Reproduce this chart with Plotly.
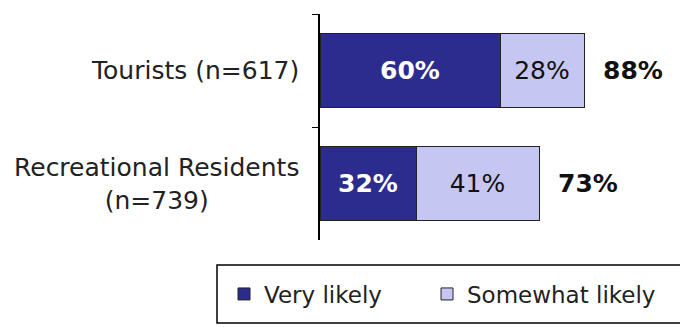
import plotly.graph_objects as go

categories = ["Tourists (n=617)", "Recreational Residents<br>(n=739)"]
very_likely = [60, 32]
somewhat_likely = [28, 41]
totals = [88, 73]

FONT = "DejaVu Sans"
FS = 25

fig = go.Figure()
fig.add_trace(go.Bar(
    y=categories, x=very_likely, orientation="h", name="Very likely",
    legendwidth=158,
    marker=dict(color="#2C2C8E", line=dict(color="#222222", width=1)),
    text=[f"{v}%" for v in very_likely], textposition="inside",
    insidetextanchor="middle", constraintext="none",
    textfont=dict(family=FONT, size=FS, color="white", weight="bold"),
))
fig.add_trace(go.Bar(
    y=categories, x=somewhat_likely, orientation="h", name="Somewhat likely",
    marker=dict(color="#C6C6F2", line=dict(color="#222222", width=1)),
    text=[f"{v}%" for v in somewhat_likely], textposition="inside",
    insidetextanchor="middle", constraintext="none",
    textfont=dict(family=FONT, size=FS, color="#111111"),
))

for cat, t in zip(categories, totals):
    fig.add_annotation(x=t, y=cat, xref="x", yref="y", text=f"<b>{t}%</b>",
                       showarrow=False, xanchor="left", xshift=17,
                       font=dict(family=FONT, size=FS, color="#111111"))
    fig.add_annotation(x=0, y=cat, xref="paper", yref="y", text=cat,
                       showarrow=False, xanchor="right", xshift=-19,
                       align="center",
                       font=dict(family=FONT, size=FS, color="#222222"))

# legend frame (extends past the right edge like the original)
fig.add_shape(type="rect", xref="paper", yref="paper",
              x0=(217 - 320) / 360, x1=(720 - 320) / 360,
              y0=(240 - 323) / 226, y1=(240 - 265) / 226,
              line=dict(color="black", width=1.5), fillcolor="white",
              layer="below")

fig.update_layout(
    width=680, height=327,
    margin=dict(l=320, r=0, t=14, b=87),
    barmode="stack", bargap=0.35,
    plot_bgcolor="rgba(0,0,0,0)", paper_bgcolor="white",
    font=dict(family=FONT, size=FS, color="#222222"),
    xaxis=dict(range=[0, 120], visible=False),
    yaxis=dict(autorange="reversed", showticklabels=False, showline=True,
               linecolor="black", linewidth=1.5, ticks="outside",
               tickson="boundaries", ticklen=6, tickcolor="black",
               showgrid=False, zeroline=False),
    legend=dict(orientation="h", x=(224 - 320) / 360, y=(240 - 294) / 226,
                xanchor="left", yanchor="middle", borderwidth=0,
                bgcolor="rgba(0,0,0,0)", traceorder="normal",
                font=dict(family=FONT, size=23, color="#222222")),
    showlegend=True,
)

fig.write_html("out.html")
